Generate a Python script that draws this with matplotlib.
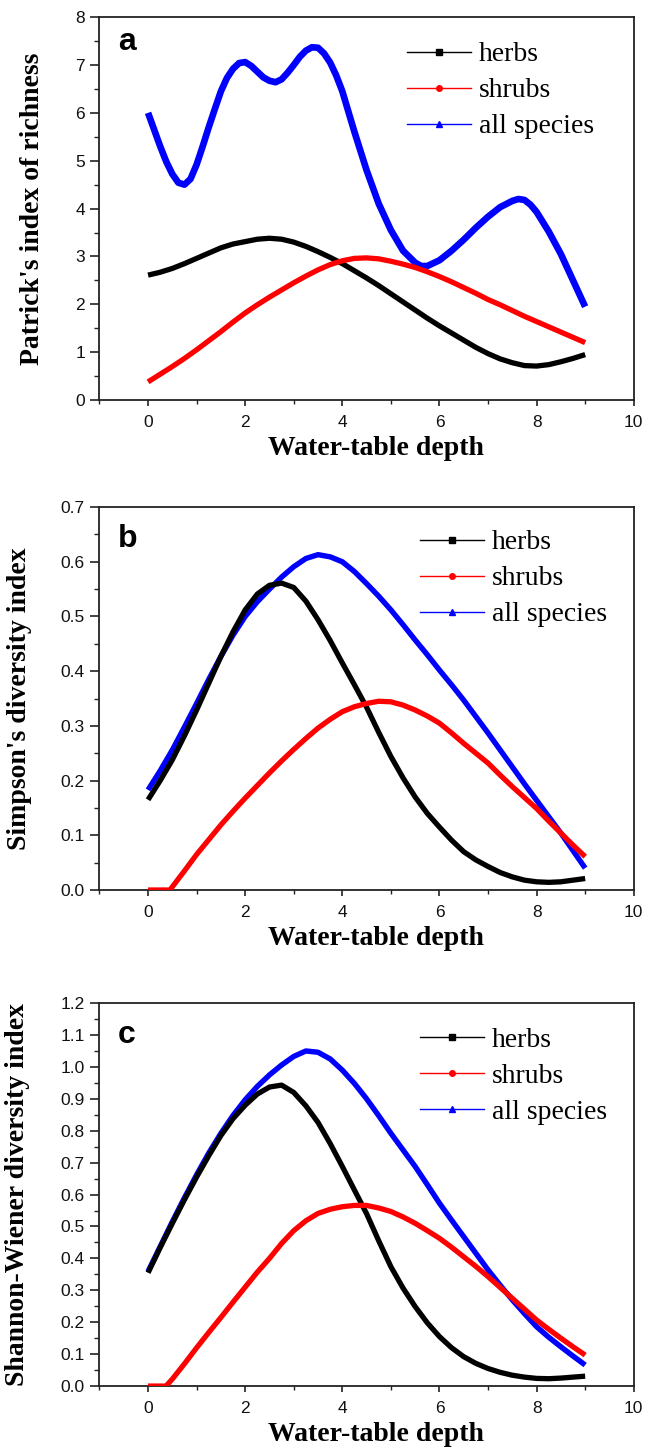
import matplotlib
matplotlib.use("Agg")
import matplotlib.pyplot as plt
from matplotlib.ticker import MultipleLocator, FormatStrFormatter
from matplotlib.lines import Line2D

# water-table depth sampling (values every 0.25)
depth = [0, 0.25, 0.5, 0.75, 1, 1.25, 1.5, 1.75, 2, 2.25, 2.5, 2.75, 3, 3.25, 3.5,
         3.75, 4, 4.25, 4.5, 4.75, 5, 5.25, 5.5, 5.75, 6, 6.25, 6.5, 6.75, 7, 7.25,
         7.5, 7.75, 8, 8.25, 8.5, 8.75, 9]

# (a) Patrick's index of richness
herbs_a = [2.61, 2.67, 2.75, 2.85, 2.96, 3.07, 3.18, 3.26, 3.31, 3.36, 3.38, 3.36, 3.3,
           3.21, 3.1, 2.98, 2.85, 2.7, 2.55, 2.39, 2.22, 2.05, 1.88, 1.71, 1.55, 1.4,
           1.25, 1.1, 0.97, 0.86, 0.78, 0.72, 0.71, 0.74, 0.8, 0.87, 0.95]
shrubs_a = [0.38, 0.54, 0.7, 0.87, 1.05, 1.24, 1.43, 1.63, 1.82, 1.99, 2.15, 2.3, 2.45,
            2.59, 2.72, 2.83, 2.91, 2.96, 2.97, 2.95, 2.9, 2.84, 2.77, 2.68, 2.58, 2.47,
            2.35, 2.23, 2.1, 1.99, 1.87, 1.75, 1.64, 1.53, 1.42, 1.31, 1.2]
# the wavy "all species" curve was read more densely
all_a_x = [0, 0.125, 0.25, 0.375, 0.5, 0.625, 0.75, 0.875, 1, 1.125, 1.25, 1.375, 1.5,
           1.625, 1.75, 1.875, 2, 2.125, 2.25, 2.375, 2.5, 2.625, 2.75, 2.875, 3, 3.125,
           3.25, 3.375, 3.5, 3.625, 3.75, 3.875, 4, 4.25, 4.5, 4.75, 5, 5.25, 5.5, 5.625,
           5.75, 6, 6.25, 6.5, 6.75, 7, 7.25, 7.5, 7.625, 7.75, 7.875, 8, 8.25, 8.5, 8.75, 9]
all_a = [6.0, 5.65, 5.3, 4.98, 4.72, 4.54, 4.5, 4.62, 4.92, 5.3, 5.7, 6.08, 6.45, 6.73,
         6.92, 7.04, 7.06, 6.98, 6.86, 6.74, 6.67, 6.64, 6.7, 6.84, 7.0, 7.17, 7.3, 7.37,
         7.36, 7.24, 7.05, 6.78, 6.45, 5.6, 4.8, 4.1, 3.55, 3.12, 2.87, 2.8, 2.8, 2.92,
         3.12, 3.35, 3.6, 3.83, 4.03, 4.16, 4.2, 4.18, 4.08, 3.93, 3.52, 3.05, 2.5, 1.95]

# (b) Simpson's diversity index
herbs_b = [0.165, 0.2, 0.238, 0.282, 0.329, 0.378, 0.427, 0.472, 0.512, 0.541, 0.557,
           0.561, 0.553, 0.528, 0.494, 0.456, 0.415, 0.375, 0.334, 0.288, 0.244, 0.205,
           0.17, 0.14, 0.115, 0.091, 0.07, 0.055, 0.043, 0.032, 0.024, 0.018, 0.015,
           0.014, 0.015, 0.018, 0.021]
shrubs_b_x = [0, 0.45, 0.75, 1, 1.25, 1.5, 1.75, 2, 2.25, 2.5, 2.75, 3, 3.25, 3.5, 3.75,
              4, 4.25, 4.5, 4.75, 5, 5.25, 5.5, 5.75, 6, 6.25, 6.5, 6.75, 7, 7.25, 7.5,
              7.75, 8, 8.25, 8.5, 8.75, 9]
shrubs_b = [0, 0, 0.035, 0.065, 0.092, 0.119, 0.144, 0.168, 0.191, 0.214, 0.236, 0.257,
            0.277, 0.296, 0.312, 0.326, 0.335, 0.341, 0.345, 0.344, 0.338, 0.329, 0.318,
            0.305, 0.287, 0.268, 0.25, 0.232, 0.21, 0.189, 0.169, 0.149, 0.126, 0.104,
            0.082, 0.061]
all_b = [0.183, 0.218, 0.256, 0.298, 0.341, 0.385, 0.427, 0.466, 0.5, 0.527, 0.55, 0.572,
         0.591, 0.606, 0.613, 0.609, 0.6, 0.582, 0.56, 0.537, 0.512, 0.485, 0.457, 0.43,
         0.402, 0.375, 0.347, 0.317, 0.287, 0.256, 0.225, 0.194, 0.164, 0.134, 0.104,
         0.072, 0.04]

# (c) Shannon-Wiener diversity index
herbs_c = [0.355, 0.434, 0.51, 0.584, 0.655, 0.722, 0.785, 0.838, 0.88, 0.915, 0.937,
           0.943, 0.92, 0.878, 0.826, 0.76, 0.688, 0.614, 0.54, 0.455, 0.374, 0.307,
           0.249, 0.198, 0.155, 0.12, 0.092, 0.071, 0.055, 0.043, 0.034, 0.028, 0.024,
           0.023, 0.025, 0.028, 0.031]
shrubs_c_x = [0, 0.37, 0.5, 0.75, 1, 1.25, 1.5, 1.75, 2, 2.25, 2.5, 2.75, 3, 3.25, 3.5,
              3.75, 4, 4.25, 4.5, 4.75, 5, 5.25, 5.5, 5.75, 6, 6.25, 6.5, 6.75, 7, 7.25,
              7.5, 7.75, 8, 8.25, 8.5, 8.75, 9]
shrubs_c = [0, 0, 0.022, 0.07, 0.12, 0.168, 0.215, 0.263, 0.31, 0.357, 0.4, 0.447, 0.487,
            0.518, 0.541, 0.554, 0.562, 0.566, 0.566, 0.558, 0.547, 0.53, 0.51, 0.487,
            0.463, 0.435, 0.405, 0.375, 0.343, 0.309, 0.275, 0.241, 0.207, 0.178, 0.15,
            0.123, 0.097]
all_c = [0.359, 0.437, 0.515, 0.59, 0.662, 0.73, 0.792, 0.848, 0.897, 0.939, 0.975,
         1.006, 1.033, 1.05, 1.046, 1.025, 0.99, 0.948, 0.9, 0.847, 0.792, 0.74, 0.688,
         0.631, 0.573, 0.52, 0.468, 0.416, 0.364, 0.316, 0.27, 0.227, 0.186, 0.153, 0.123,
         0.094, 0.066]

labels = ["herbs", "shrubs", "all species"]
SERIF = "Liberation Serif"
SANS = "Liberation Sans"
SPINE = "#222222"

panels = [
    dict(letter="a", ylabel="Patrick's index of richness", ylim=(0, 8), major=1, minor=0.5,
         fmt="%d", herbs=(depth, herbs_a), shrubs=(depth, shrubs_a), all=(all_a_x, all_a),
         bottom=0.7241, ylab_x=-0.102, leg=(0.575, 0.935), let_y=0.914, blue_lw=4.8),
    dict(letter="b", ylabel="Simpson's diversity index", ylim=(0, 0.7), major=0.1, minor=0.05,
         fmt="%.1f", herbs=(depth, herbs_b), shrubs=(shrubs_b_x, shrubs_b), all=(depth, all_b),
         bottom=0.3862, ylab_x=-0.126, leg=(0.60, 0.94), let_y=0.896, blue_lw=3.9),
    dict(letter="c", ylabel="Shannon-Wiener diversity index", ylim=(0, 1.2), major=0.1, minor=0.05,
         fmt="%.1f", herbs=(depth, herbs_c), shrubs=(shrubs_c_x, shrubs_c), all=(depth, all_c),
         bottom=0.0441, ylab_x=-0.130, leg=(0.60, 0.937), let_y=0.896, blue_lw=3.9),
]

fig = plt.figure(figsize=(6.46, 14.5), dpi=100)

for p in panels:
    ax = fig.add_axes([0.154, p["bottom"], 0.827, 0.2641])
    style = dict(solid_capstyle="butt", solid_joinstyle="round")
    ax.plot(*p["herbs"], color="black", lw=3.8, zorder=3, **style)
    ax.plot(*p["shrubs"], color="red", lw=3.8, zorder=3, **style)
    ax.plot(*p["all"], color="blue", lw=p["blue_lw"], zorder=2, **style)

    ax.set_xlim(-1, 10)
    ax.set_ylim(*p["ylim"])
    ax.xaxis.set_major_locator(MultipleLocator(2))
    ax.xaxis.set_minor_locator(MultipleLocator(1))
    ax.yaxis.set_major_locator(MultipleLocator(p["major"]))
    ax.yaxis.set_minor_locator(MultipleLocator(p["minor"]))
    ax.yaxis.set_major_formatter(FormatStrFormatter(p["fmt"]))

    for s in ax.spines.values():
        s.set_color(SPINE)
        s.set_linewidth(1.3)
    ax.tick_params(axis="y", which="major", direction="out", length=6.5, width=1.2,
                   color=SPINE, pad=4, labelsize=12.5, labelcolor="#111111")
    ax.tick_params(axis="y", which="minor", direction="out", length=3.5, width=1.0, color=SPINE)
    ax.tick_params(axis="x", which="major", direction="out", length=4, width=1.2,
                   color=SPINE, pad=7, labelsize=12.5, labelcolor="#111111")
    ax.tick_params(axis="x", which="minor", direction="out", length=3, width=1.0, color=SPINE)
    for t in ax.get_xticklabels() + ax.get_yticklabels():
        t.set_fontfamily(SANS)

    ax.set_ylabel(p["ylabel"], fontfamily=SERIF, fontweight="bold", fontsize=20)
    ax.yaxis.set_label_coords(p["ylab_x"], 0.5)
    ax.set_xlabel("Water-table depth", fontfamily=SERIF, fontweight="bold", fontsize=20,
                  va="top")
    ax.xaxis.set_label_coords(0.517, -0.095)

    ax.text(0.035, p["let_y"], p["letter"], transform=ax.transAxes, fontfamily=SANS,
            fontweight="bold", fontsize=23, va="baseline")

    handles = [
        Line2D([], [], color="black", lw=1.0, marker="s", markersize=4),
        Line2D([], [], color="red", lw=1.0, marker="o", markersize=4),
        Line2D([], [], color="blue", lw=1.0, marker="^", markersize=4),
    ]
    ax.legend(handles, labels, loc="upper left", bbox_to_anchor=p["leg"], frameon=False,
              prop=dict(family=SERIF, size=20), handlelength=2.3, handletextpad=0.3,
              labelspacing=0.38, borderpad=0, borderaxespad=0, numpoints=1)

fig.savefig("out.png", dpi=100)
